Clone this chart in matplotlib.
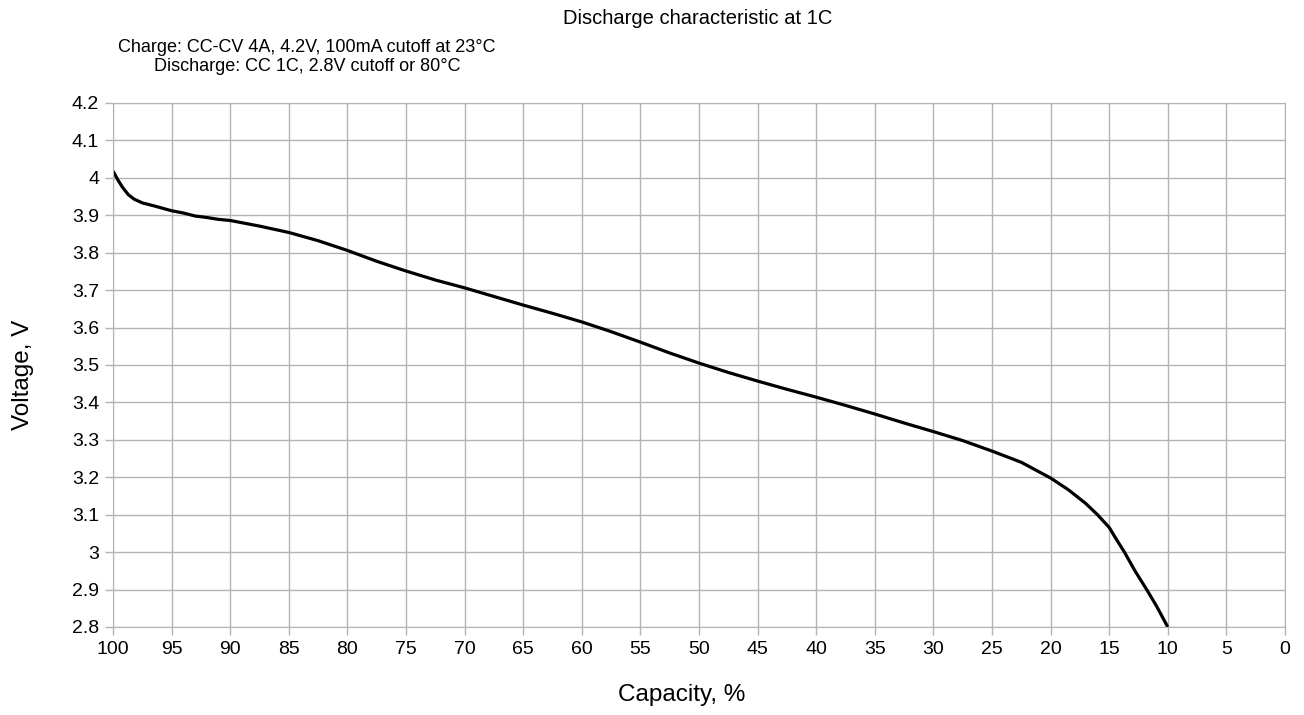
import matplotlib.pyplot as plt

plt.rcParams['font.family'] = ['Liberation Sans', 'DejaVu Sans']

# pojemnosc [%] i napiecie [V]
capacity = [100, 99.6, 99.2, 98.7, 98.2, 97.5, 96.5, 95, 94, 93, 92, 91, 90,
            87.5, 85, 82.5, 80, 77.5, 75, 72.5, 70, 67.5, 65, 62.5, 60,
            57.5, 55, 52.5, 50, 47.5, 45, 42.5, 40, 37.5, 35, 32.5, 30,
            27.5, 25, 22.5, 20, 18.5, 17, 16, 15, 14.5, 13.7, 12.8, 11.8, 11, 10]
voltage = [4.018, 3.995, 3.975, 3.955, 3.943, 3.933, 3.925, 3.912, 3.906, 3.898, 3.894, 3.889, 3.886,
           3.871, 3.854, 3.832, 3.806, 3.777, 3.751, 3.727, 3.706, 3.683, 3.660, 3.638, 3.615,
           3.589, 3.561, 3.532, 3.505, 3.480, 3.457, 3.435, 3.414, 3.392, 3.369, 3.345, 3.322,
           3.298, 3.270, 3.240, 3.198, 3.167, 3.130, 3.100, 3.066, 3.040, 3.000, 2.950, 2.900, 2.858, 2.800]

x_ticks = list(range(100, -1, -5))
y_ticks = [2.8 + 0.1 * i for i in range(15)]

fig = plt.figure(figsize=(13.04, 7.15), dpi=100)
ax = fig.add_axes([0.0867, 0.1231, 0.8987, 0.7329])

ax.plot(capacity, voltage, color='black', linewidth=2.3, solid_capstyle='butt')

ax.set_xlim(100, 0)
ax.set_ylim(2.8, 4.2)
ax.set_xticks(x_ticks)
ax.set_xticklabels([str(t) for t in x_ticks])
ax.set_yticks(y_ticks)
ax.set_yticklabels([f'{t:.1f}'.rstrip('0').rstrip('.') for t in y_ticks])

ax.grid(True, color='#b3b3b3', linewidth=1)
ax.set_axisbelow(True)
for s in ax.spines.values():
    s.set_color('#b3b3b3')
ax.tick_params(colors='#b3b3b3', labelcolor='black', labelsize=14, length=6, width=1)
ax.tick_params(axis='x', pad=4)
ax.tick_params(axis='y', pad=4)

ax.set_xlabel('Capacity, %', fontsize=17.5, labelpad=19, x=0.485)
ax.set_ylabel('Voltage, V', fontsize=17.5, labelpad=27, y=0.481)

fig.text(0.535, 0.974, 'Discharge characteristic at 1C', ha='center', va='center', fontsize=14.5)
fig.text(0.2356, 0.920, 'Charge: CC-CV 4A, 4.2V, 100mA cutoff at 23°C\nDischarge: CC 1C, 2.8V cutoff or 80°C',
         ha='center', va='center', fontsize=13, linespacing=1.12)

plt.savefig('out.png', dpi=100)
